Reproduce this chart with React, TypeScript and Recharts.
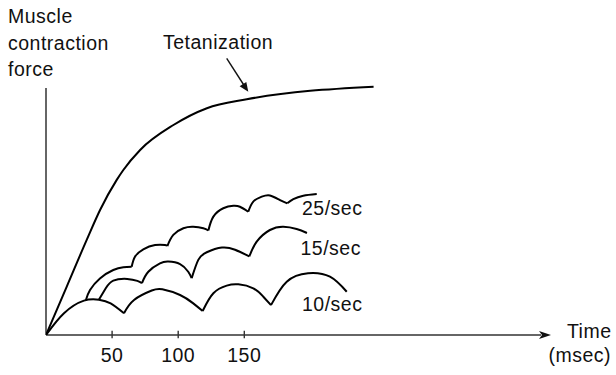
import { LineChart, Line, XAxis, YAxis, ReferenceLine } from 'recharts';

// time in msec, force in arbitrary units (0-100)
const timeTicks = [50, 100, 150];

const tetanization: [number, number][] = [
  [0, 0], [15.7, 19.6], [30.8, 38.5], [40.9, 50.6], [53.5, 62.8], [58.5, 66.8],
  [71.2, 74.9], [96.4, 85.0], [121.7, 91.8], [151.9, 95.4], [247.8, 100.5],
];

// each twitch is its own arc so the joins stay sharp
const twitch10: [number, number][][] = [
  [[0, 0], [13.6, 8.8], [28.7, 13.9], [40.1, 14.3], [48.9, 12.8], [59.0, 8.8]],
  [[59.0, 8.8], [66.6, 14.2], [80, 18.0], [88, 18.5], [101.4, 16.2], [111.4, 12.8], [118.5, 9.7]],
  [[118.5, 9.7], [126.6, 16.9], [136.7, 20.0], [145.5, 20.5], [156.8, 18.9], [164.4, 15.5], [170.2, 12.1]],
  [[170.2, 12.1], [182.1, 21.6], [198.2, 25.0], [214.8, 23.6], [227.5, 17.5]],
];

const twitch15: [number, number][][] = [
  [[40.1, 14.4], [45.2, 18.9], [50.9, 22.0], [61.5, 22.7], [69.1, 21.9], [72.6, 21.0]],
  [[72.6, 21.0], [77.4, 25.6], [86.2, 29.0], [92.5, 29.7], [101.4, 28.7], [107.6, 25.6], [110.2, 23.0]],
  [[110.2, 23.0], [115.2, 30.4], [121.6, 33.5], [133.1, 35.4], [143, 34.5], [153.8, 31.8]],
  [[153.8, 31.8], [159.4, 37.8], [169.4, 42.5], [179.5, 43.8], [189.6, 42.9], [197.4, 41.3]],
];

const twitch25: [number, number][][] = [
  [[30.2, 14.2], [33.3, 18.2], [40.8, 22.9], [50.9, 26.3], [58.5, 27.4], [64.8, 27.6]],
  [[64.8, 27.6], [67.3, 31.7], [73.6, 34.7], [82.5, 36.4], [90.0, 36.4], [91.8, 36.0]],
  [[91.8, 36.0], [96.3, 40.5], [103.9, 43.2], [111.4, 43.8], [119.0, 43.2], [122.8, 42.3]],
  [[122.8, 42.3], [126.6, 47.9], [134.1, 51.3], [141.7, 52.3], [146.7, 51.9], [153.0, 49.9]],
  [[153.0, 49.9], [156.8, 54.0], [163.2, 56.0], [169.4, 56.5], [177.0, 54.6], [182.5, 53.3]],
  [[182.5, 53.3], [187.1, 55.0], [194.6, 56.4], [204.8, 57.1]],
];

const rateLabels = ['25/sec', '15/sec', '10/sec'];
const yTitle = ['Muscle', 'contraction', 'force'];

const FONT = '"Liberation Sans", Arial, Helvetica, sans-serif';
const AXIS = '#333';

const toRows = (pts: [number, number][]) => pts.map(([t, f]) => ({ t, f }));

function TimeTick(props: any) {
  const { x, y, payload } = props;
  return (
    <g>
      <line x1={x} x2={x} y1={y - 4.3} y2={y + 3.3} stroke={AXIS} strokeWidth={1.4} />
      <text x={x} y={y + 26.5} textAnchor="middle" fontFamily={FONT} fontSize={19.5} fill="#111" letterSpacing={0.5}>
        {payload.value}
      </text>
    </g>
  );
}

function ArrowLine(props: any) {
  const { x1, y1, x2, y2 } = props;
  const head = 12;
  return (
    <g>
      <line x1={x1} y1={y1} x2={x2 - head + 2} y2={y2} stroke={AXIS} strokeWidth={1.5} />
      <polygon points={`${x2},${y2} ${x2 - head},${y2 - 4} ${x2 - head + 3},${y2} ${x2 - head},${y2 + 4}`} fill="#111" />
    </g>
  );
}

function arcLines(arcs: [number, number][][], key: string) {
  return arcs.map((arc, i) => (
    <Line
      key={`${key}-${i}`}
      data={toRows(arc)}
      dataKey="f"
      type="natural"
      stroke="#000"
      strokeWidth={2}
      dot={false}
      activeDot={false}
      isAnimationActive={false}
    />
  ));
}

export default function App() {
  const textStyle = { fontFamily: FONT, fontSize: 19.5, fill: '#111', letterSpacing: 0.5 };
  return (
    <div style={{ position: 'absolute', left: 0, top: 0, width: 616, height: 375, background: '#fff' }}>
      <LineChart width={616} height={375} margin={{ top: 83, right: 65, bottom: 0, left: 46 }}>
        <XAxis
          type="number"
          dataKey="t"
          domain={[0, 382]}
          ticks={timeTicks}
          axisLine={false}
          tickLine={false}
          tickSize={0}
          tickMargin={0}
          tick={<TimeTick />}
          height={40}
          allowDataOverflow
        />
        <YAxis type="number" domain={[0, 102]} hide allowDataOverflow />
        <ReferenceLine segment={[{ x: 0, y: 0 }, { x: 0, y: 100 }]} stroke={AXIS} strokeWidth={1.5} />
        <ReferenceLine segment={[{ x: 0, y: 0 }, { x: 382, y: 0 }]} shape={<ArrowLine />} />
        <Line
          data={toRows(tetanization)}
          dataKey="f"
          type="monotone"
          stroke="#000"
          strokeWidth={2}
          dot={false}
          activeDot={false}
          isAnimationActive={false}
        />
        {arcLines(twitch10, 'r10')}
        {arcLines(twitch15, 'r15')}
        {arcLines(twitch25, 'r25')}
      </LineChart>
      <svg width={616} height={375} style={{ position: 'absolute', left: 0, top: 0, pointerEvents: 'none' }}>
        {yTitle.map((s, i) => (
          <text key={s} x={8} y={23.3 + i * 26.4} {...textStyle}>{s}</text>
        ))}
        <text x={163} y={49.3} {...textStyle}>Tetanization</text>
        <line x1={226.7} y1={58.3} x2={243.5} y2={84.5} stroke="#111" strokeWidth={1.4} />
        <polygon points="248.3,91.7 239.6,86.3 246.3,82" fill="#111" />
        <text x={302} y={215} {...textStyle}>{rateLabels[0]}</text>
        <text x={300.5} y={255} {...textStyle}>{rateLabels[1]}</text>
        <text x={302} y={310.5} {...textStyle}>{rateLabels[2]}</text>
        <text x={611.5} y={338.3} textAnchor="end" {...textStyle}>Time</text>
        <text x={611} y={362} textAnchor="end" {...textStyle}>(msec)</text>
      </svg>
    </div>
  );
}
